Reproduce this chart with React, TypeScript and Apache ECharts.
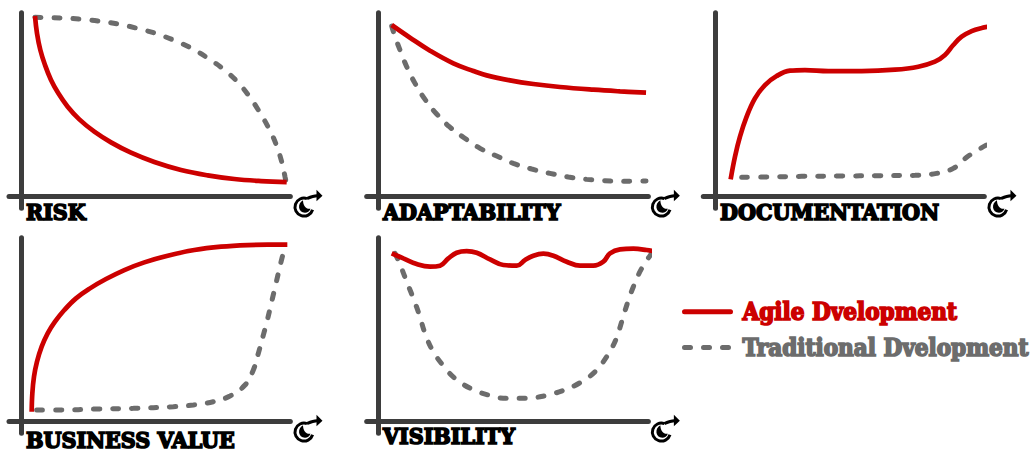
import React, { useEffect, useRef } from "react";
import * as echarts from "echarts";

const AGILE = "Agile Dvelopment";
const TRADITIONAL = "Traditional Dvelopment";

const panelTitles = ["RISK", "ADAPTABILITY", "DOCUMENTATION", "BUSINESS VALUE", "VISIBILITY"];

const riskAgile = [[42,542],[48,490],[58,440],[72,395],[90,350],[112,310],[140,270],[175,232],[220,195],[270,163],[330,132],[400,104],[480,80],[560,64],[640,53],[720,47],[797,44]];
const riskTraditional = [[42,538],[117,536],[187,532],[247,525],[297,517],[357,503],[407,489],[457,470],[512,445],[557,418],[607,383],[647,347],[682,305],[712,260],[742,208],[765,158],[782,105],[792,60],[795,45]];
const adaptAgile = [[40,515],[95,477],[155,438],[225,400],[285,377],[325,364],[395,349],[465,338],[545,329],[645,321],[725,316],[803,312]];
const adaptTraditional = [[40,512],[50,480],[65,440],[85,390],[110,340],[140,292],[175,248],[213,210],[257,177],[305,145],[355,122],[405,100],[460,83],[515,70],[570,59],[625,52],[680,48],[735,46],[803,47]];
const docAgile = [[47,52],[60,120],[75,180],[95,240],[120,295],[150,335],[185,362],[225,378],[270,380],[340,377],[440,377],[540,381],[610,390],[660,405],[690,425],[715,455],[740,480],[770,497],[800,506],[828,511]];
const docTraditional = [[80,58],[150,59],[260,61],[380,62],[490,63],[600,64],[665,70],[715,85],[760,122],[820,158]];
const valueAgile = [[32,30],[34,85],[39,135],[48,180],[62,225],[80,265],[102,300],[130,335],[165,370],[207,400],[255,428],[310,455],[370,478],[440,498],[520,515],[600,525],[680,530],[740,531],[799,531]];
const valueTraditional = [[47,35],[117,35],[227,38],[337,40],[457,45],[517,50],[577,60],[627,77],[672,110],[697,155],[712,205],[727,260],[739,305],[752,360],[765,415],[779,475],[792,525]];
const visAgile = [[40,505],[75,490],[115,473],[155,465],[185,468],[210,490],[235,507],[265,512],[295,507],[335,487],[375,470],[415,468],[440,485],[465,498],[495,504],[525,498],[565,480],[605,468],[645,468],[675,480],[695,505],[725,517],[765,519],[805,515],[833,510]];
const visTraditional = [[50,505],[65,472],[85,420],[103,375],[123,320],[140,265],[162,215],[193,170],[230,130],[280,98],[330,80],[385,70],[442,70],[500,78],[555,94],[605,117],[650,150],[685,195],[712,245],[730,300],[747,355],[765,405],[790,460],[820,505]];

const agileSeries = [riskAgile, adaptAgile, docAgile, valueAgile, visAgile];
const traditionalSeries = [riskTraditional, adaptTraditional, docTraditional, valueTraditional, visTraditional];

const panelBox = [
  { left: 9, top: 12.7, xMin: -36, xMax: 808, titleX: 26, titleY: 200 },
  { left: 366.7, top: 12.7, xMin: -35, xMax: 810, titleX: 383, titleY: 200 },
  { left: 703.3, top: 12.7, xMin: -35, xMax: 808, titleX: 720, titleY: 200 },
  { left: 9, top: 237.7, xMin: -36, xMax: 808, titleX: 26, titleY: 428 },
  { left: 366.7, top: 237.7, xMin: -35, xMax: 810, titleX: 383, titleY: 424 },
];

const RED = "#cc0000";
const GREY = "#6c6c6c";
const AXIS = "#3d3d3d";
const FONT = '"DejaVu Serif Condensed", "DejaVu Serif", serif';

echarts.graphic.registerShape(
  "clockRing",
  echarts.graphic.extendPath("M 3 -8.6 A 9 9 0 1 0 8.6 2.5 M 3 -8.6 C 6 -10 9 -11.5 13 -11.5", {})
);
echarts.graphic.registerShape(
  "clockHead",
  echarts.graphic.extendPath("M -1 -7 C -7 -4 -6 5.5 1 5.5 C 3.5 5.5 5.5 4 6.5 1.5 C 2.5 2.5 -1 -1.5 -1 -7 Z M 12.5 -17.5 L 18.5 -11.5 L 12.5 -6 Z", {})
);

export default function App() {
  const ref = useRef<HTMLDivElement>(null);
  useEffect(() => {
    document.body.style.margin = "0";
    const chart = echarts.init(ref.current!, null, { renderer: "svg" });
    const grids = panelBox.map((p) => ({
      left: p.left,
      top: p.top,
      width: (p.xMax - p.xMin) / 3,
      height: 587 / 3,
    }));
    const xAxes = panelBox.map((p, i) => ({
      type: "value",
      gridIndex: i,
      min: p.xMin,
      max: p.xMax,
      splitLine: { show: false },
      axisTick: { show: false },
      axisLabel: { show: false },
      axisLine: { show: true, onZero: true, lineStyle: { color: AXIS, width: 5, cap: "round" } },
    }));
    const yAxes = panelBox.map((_, i) => ({
      type: "value",
      gridIndex: i,
      min: -35,
      max: 552,
      splitLine: { show: false },
      axisTick: { show: false },
      axisLabel: { show: false },
      axisLine: { show: true, onZero: true, lineStyle: { color: AXIS, width: 5, cap: "round" } },
    }));
    const series: any[] = [];
    panelBox.forEach((_, i) => {
      series.push({
        type: "line",
        name: TRADITIONAL,
        xAxisIndex: i,
        yAxisIndex: i,
        data: traditionalSeries[i],
        smooth: 0.4,
        symbol: "none",
        clip: false,
        lineStyle: { color: GREY, width: 5, type: [6, 13], cap: "round" },
        itemStyle: { color: GREY },
      });
      series.push({
        type: "line",
        name: AGILE,
        xAxisIndex: i,
        yAxisIndex: i,
        data: agileSeries[i],
        smooth: 0.4,
        symbol: "none",
        clip: false,
        lineStyle: { color: RED, width: 4.7, cap: "butt" },
        itemStyle: { color: RED },
      });
    });
    const labelStyle = (color: string, fontSize: number) => ({
      fontFamily: FONT,
      fontWeight: "bold" as const,
      fontSize,
      color,
      textBorderColor: color,
      textBorderWidth: 1.6,
    });
    chart.setOption({
      animation: false,
      tooltip: { show: false },
      grid: grids,
      xAxis: xAxes,
      yAxis: yAxes,
      series,
      title: panelTitles.map((t, i) => ({
        text: t,
        left: panelBox[i].titleX,
        top: panelBox[i].titleY,
        padding: 0,
        textStyle: labelStyle("#000", 23),
      })),
      legend: {
        left: 682,
        top: 299,
        orient: "vertical",
        itemWidth: 46,
        itemHeight: 0,
        itemGap: 10,
        selectedMode: false,
        padding: 0,
        lineStyle: { width: 5, cap: "round" },
        data: [
          { name: AGILE, lineStyle: { width: 5, cap: "round" }, textStyle: { ...labelStyle(RED, 24), padding: [0, 0, 0, 7] } },
          { name: TRADITIONAL, lineStyle: { width: 5, cap: "round" }, textStyle: { ...labelStyle(GREY, 24), padding: [0, 0, 0, 7] } },
        ],
      },
      graphic: panelBox.map((p) => ({
        type: "group",
        x: p.left - p.xMin / 3 + 283,
        y: p.top + 552 / 3 + 10.5,
        silent: true,
        children: [
          { type: "clockRing", style: { fill: "none", stroke: "#000", lineWidth: 3 } },
          { type: "clockHead", style: { fill: "#000" } },
        ],
      })),
    });
    return () => chart.dispose();
  }, []);
  return <div ref={ref} style={{ position: "absolute", left: 0, top: 0, width: 1034, height: 454 }} />;
}
